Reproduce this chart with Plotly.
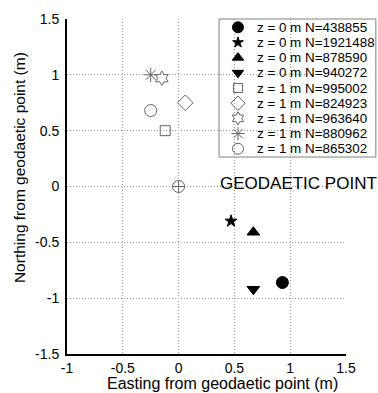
import plotly.graph_objects as go

labels = ["z = 0 m N=438855", "z = 0 m N=1921488", "z = 0 m N=878590", "z = 0 m N=940272",
          "z = 1 m N=995002", "z = 1 m N=824923", "z = 1 m N=963640", "z = 1 m N=880962",
          "z = 1 m N=865302"]
easting = [0.93, 0.47, 0.67, 0.67, -0.12, 0.06, -0.15, -0.25, -0.25]
northing = [-0.86, -0.31, -0.41, -0.92, 0.50, 0.75, 0.97, 1.00, 0.68]
symbols = ["circle", "star", "triangle-up", "triangle-down", "square-open", "diamond-open",
           "hexagram-open", "asterisk-open", "circle-open"]
colors = ["black"] * 4 + ["#666666"] * 5
sizes = [12, 9, 11, 11, 10, 12, 11, 12, 12]

geo_x = [0]
geo_y = [0]
geo_label = "GEODAETIC POINT"
x_title = "Easting from geodaetic point (m)"
y_title = "Northing from geodaetic point (m)"

FONT = "Arial"

fig = go.Figure()
for lab, x, y, s, c, sz in zip(labels, easting, northing, symbols, colors, sizes):
    fig.add_trace(go.Scatter(x=[x], y=[y], mode="markers", name=lab, showlegend=False,
                             marker=dict(symbol=s, color=c, size=sz,
                                         line=dict(color=c, width=1))))
fig.add_trace(go.Scatter(x=geo_x, y=geo_y, mode="markers", showlegend=False,
                         marker=dict(symbol="circle-cross-open", color="#666666", size=12,
                                     line=dict(width=1))))
fig.add_annotation(x=0.35, y=0.03, text=geo_label, showarrow=False, xanchor="left",
                   yanchor="middle", font=dict(size=17, color="black", family=FONT))

# manual legend (box + markers + labels)
fig.add_shape(type="rect", xref="paper", yref="paper", x0=0.545, x1=1.107, y0=0.588, y1=1.0,
              fillcolor="white", line=dict(color="#808080", width=1), layer="between")
leg_x0 = 0.532
leg_text_x = 0.685
leg_y0 = 1.426
leg_dy = 0.136
for i, (lab, s, c, sz) in enumerate(zip(labels, symbols, colors, sizes)):
    yy = leg_y0 - i * leg_dy
    fig.add_trace(go.Scatter(x=[leg_x0], y=[yy], mode="markers", showlegend=False,
                             cliponaxis=False, hoverinfo="skip",
                             marker=dict(symbol=s, color=c, size=sz - 1,
                                         line=dict(color=c, width=1))))
    fig.add_annotation(x=leg_text_x, y=yy, text=lab, showarrow=False, xanchor="left",
                       yanchor="middle", font=dict(size=13.4, color="black", family=FONT))

# axis titles
fig.add_annotation(xref="paper", yref="paper", x=0.559, y=-0.115, text=x_title,
                   showarrow=False, xanchor="center", yanchor="bottom", borderpad=0,
                   font=dict(size=16, color="black", family=FONT))
fig.add_annotation(xref="paper", yref="paper", x=-0.172, y=0.555, text=y_title,
                   textangle=-90, showarrow=False, xanchor="center", yanchor="middle",
                   font=dict(size=15.5, color="black", family=FONT))

axis_common = dict(showgrid=True, gridcolor="#9a9a9a", griddash="1px,2px", gridwidth=1,
                   zeroline=False, ticks="", showline=True, linecolor="black", linewidth=2,
                   tickfont=dict(size=14, color="black", family=FONT))
fig.update_xaxes(range=[-1, 1.5], tickvals=[-1, -0.5, 0, 0.5, 1, 1.5],
                 ticktext=["-1", "-0.5", "0", "0.5", "1", "1.5"], ticklabelstandoff=0,
                 **axis_common)
fig.update_yaxes(range=[-1.5, 1.5], tickvals=[-1.5, -1, -0.5, 0, 0.5, 1, 1.5],
                 ticktext=["-1.5", "-1", "-0.5", "0", "0.5", "1", "1.5"], ticklabelstandoff=3,
                 **axis_common)
fig.update_layout(width=378, height=393, margin=dict(l=67, r=32, t=19, b=39),
                  plot_bgcolor="white", paper_bgcolor="white", showlegend=False)
fig.write_html("out.html")
